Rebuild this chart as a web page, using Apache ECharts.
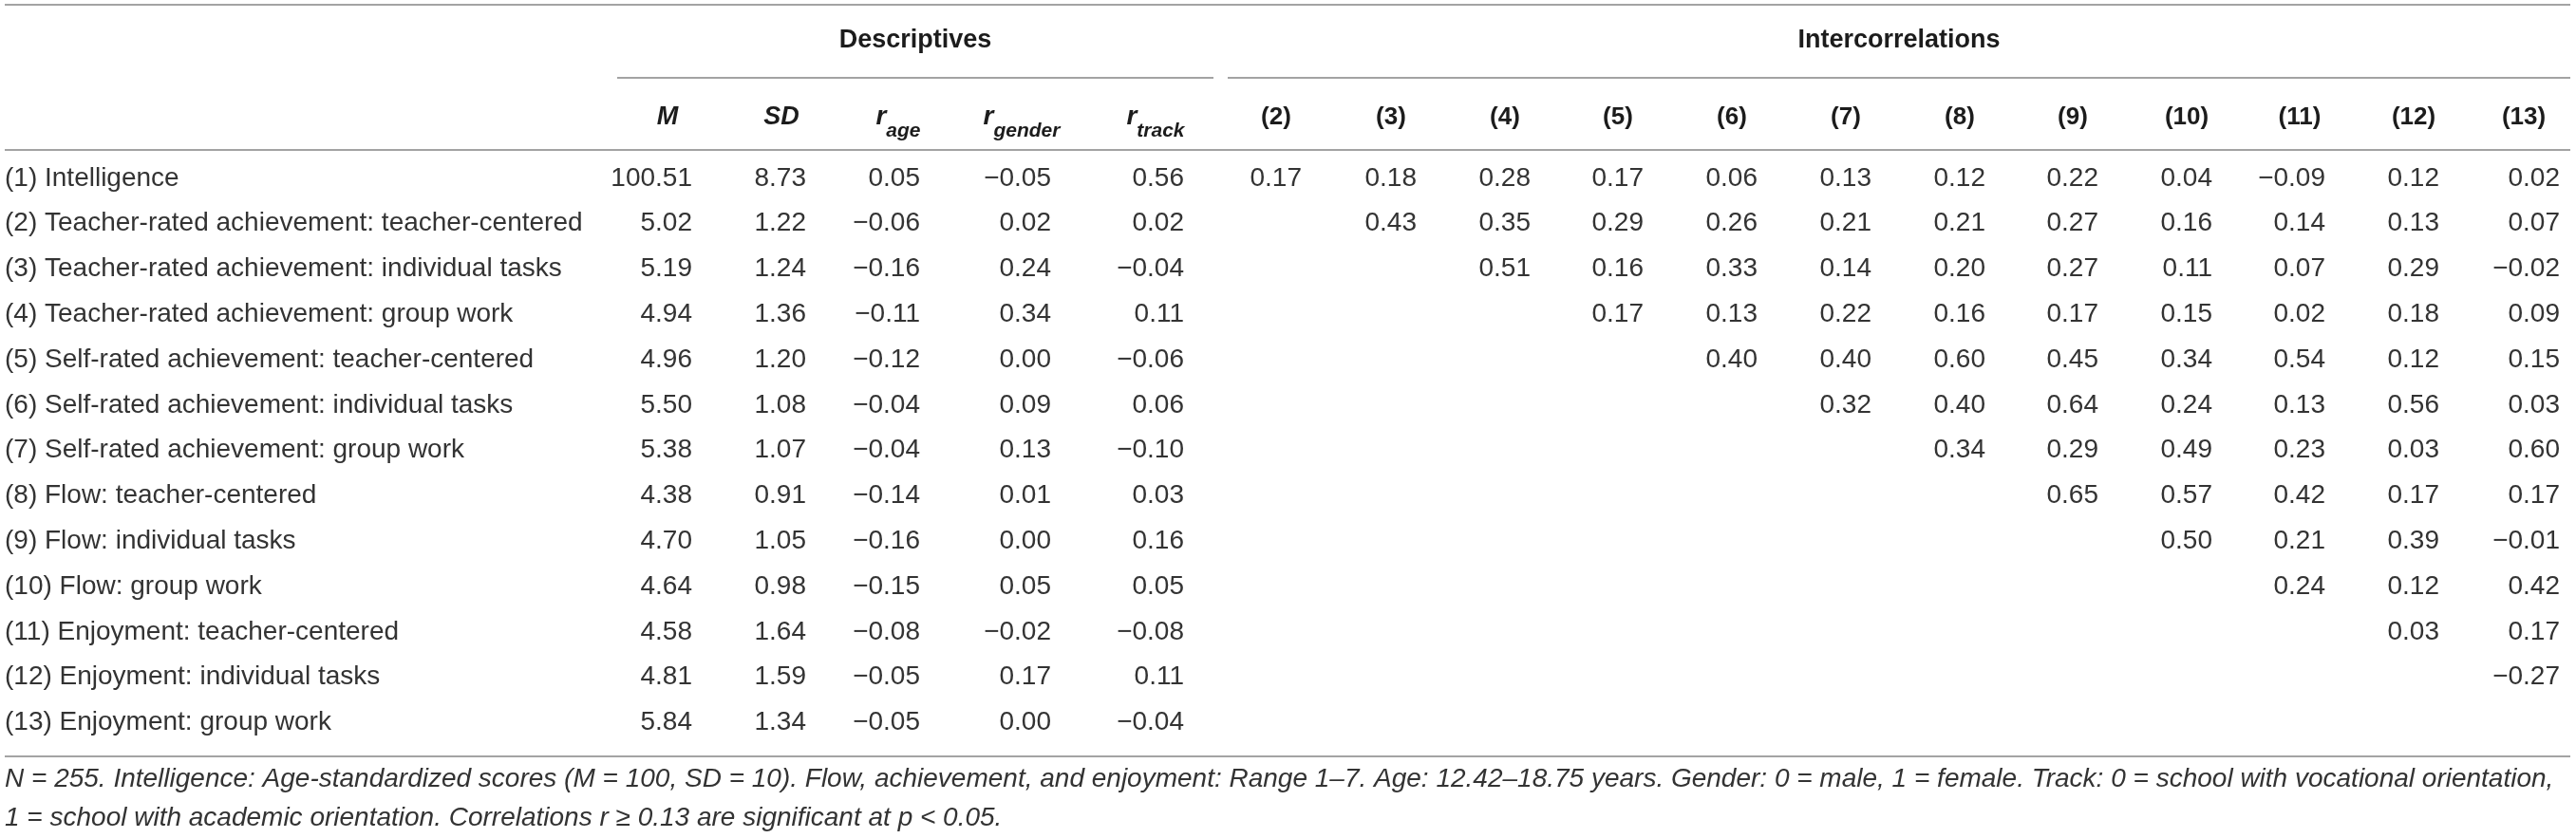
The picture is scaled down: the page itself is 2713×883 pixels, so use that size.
<!DOCTYPE html>
<html>
<head>
<meta charset="utf-8">
<script src="https://cdn.jsdelivr.net/npm/echarts@6/dist/echarts.min.js"></script>
<style>
  html, body { margin: 0; padding: 0; background: #fff; }
  #main { width: 2713px; height: 883px; }
</style>
</head>
<body>
<div id="main"></div>
<script>
// table content
var rowLabels = [
  '(1) Intelligence',
  '(2) Teacher-rated achievement: teacher-centered',
  '(3) Teacher-rated achievement: individual tasks',
  '(4) Teacher-rated achievement: group work',
  '(5) Self-rated achievement: teacher-centered',
  '(6) Self-rated achievement: individual tasks',
  '(7) Self-rated achievement: group work',
  '(8) Flow: teacher-centered',
  '(9) Flow: individual tasks',
  '(10) Flow: group work',
  '(11) Enjoyment: teacher-centered',
  '(12) Enjoyment: individual tasks',
  '(13) Enjoyment: group work'
];
var means   = [100.51, 5.02, 5.19, 4.94, 4.96, 5.50, 5.38, 4.38, 4.70, 4.64, 4.58, 4.81, 5.84];
var sds     = [8.73, 1.22, 1.24, 1.36, 1.20, 1.08, 1.07, 0.91, 1.05, 0.98, 1.64, 1.59, 1.34];
var rAge    = [0.05, -0.06, -0.16, -0.11, -0.12, -0.04, -0.04, -0.14, -0.16, -0.15, -0.08, -0.05, -0.05];
var rGender = [-0.05, 0.02, 0.24, 0.34, 0.00, 0.09, 0.13, 0.01, 0.00, 0.05, -0.02, 0.17, 0.00];
var rTrack  = [0.56, 0.02, -0.04, 0.11, -0.06, 0.06, -0.10, 0.03, 0.16, 0.05, -0.08, 0.11, -0.04];

// upper triangle, row (i) holds columns (i+1) .. (13)
var corr = [
  [0.17, 0.18, 0.28, 0.17, 0.06, 0.13, 0.12, 0.22, 0.04, -0.09, 0.12, 0.02],
  [0.43, 0.35, 0.29, 0.26, 0.21, 0.21, 0.27, 0.16, 0.14, 0.13, 0.07],
  [0.51, 0.16, 0.33, 0.14, 0.20, 0.27, 0.11, 0.07, 0.29, -0.02],
  [0.17, 0.13, 0.22, 0.16, 0.17, 0.15, 0.02, 0.18, 0.09],
  [0.40, 0.40, 0.60, 0.45, 0.34, 0.54, 0.12, 0.15],
  [0.32, 0.40, 0.64, 0.24, 0.13, 0.56, 0.03],
  [0.34, 0.29, 0.49, 0.23, 0.03, 0.60],
  [0.65, 0.57, 0.42, 0.17, 0.17],
  [0.50, 0.21, 0.39, -0.01],
  [0.24, 0.12, 0.42],
  [0.03, 0.17],
  [-0.27],
  []
];

var descHeads = ['M', 'SD', 'age', 'gender', 'track'];
var corrHeads = ['(2)', '(3)', '(4)', '(5)', '(6)', '(7)', '(8)', '(9)', '(10)', '(11)', '(12)', '(13)'];
var groupTitles = ['Descriptives', 'Intercorrelations'];
var footnote = [
  'N = 255. Intelligence: Age-standardized scores (M = 100, SD = 10). Flow, achievement, and enjoyment: Range 1\u20137. Age: 12.42\u201318.75 years. Gender: 0 = male, 1 = female. Track: 0 = school with vocational orientation,',
  '1 = school with academic orientation. Correlations r \u2265 0.13 are significant at p < 0.05.'
];

// layout (pixels)
var W = 2713, H = 883;
var FONT = '"Liberation Sans", Arial, Helvetica, sans-serif';
var descCenter = [703, 823, 946, 1076, 1217];
var descRight = [729, 849, 969, 1107, 1247];
var corrCenter = [1344, 1465, 1585, 1704, 1824, 1944, 2064, 2183, 2303, 2422, 2542, 2658];
var corrRight = corrCenter.map(function (c) { return c + 27; });
corrRight[11] = 2696;
var rowTop = 164, rowH = 47.8;
var ruleColor = '#a3a3a3';

function fmt(v) {
  return (v < 0 ? '\u2212' : '') + Math.abs(v).toFixed(2);
}

// cells: [x right edge, row index, text]
var cells = [];
var descCols = [means, sds, rAge, rGender, rTrack];
rowLabels.forEach(function (lab, i) {
  descCols.forEach(function (col, j) {
    cells.push([descRight[j], i, fmt(col[i])]);
  });
  corr[i].forEach(function (v, m) {
    cells.push([corrRight[i + m], i, fmt(v)]);
  });
});

var chart = echarts.init(document.getElementById('main'));

var graphics = [];
function rule(x1, x2, y) {
  graphics.push({
    type: 'line', silent: true,
    shape: { x1: x1, y1: y, x2: x2, y2: y },
    style: { stroke: ruleColor, lineWidth: 2 }
  });
}
rule(5, 2707, 5);
rule(650, 1278, 82);
rule(1293, 2707, 82);
rule(5, 2707, 158);
rule(5, 2707, 797);

graphics.push({
  type: 'text', x: 964, y: 43,
  style: { text: groupTitles[0], font: 'bold 27px ' + FONT, fill: '#1c1c1c', align: 'center', verticalAlign: 'middle' }
});
graphics.push({
  type: 'text', x: 2000, y: 43,
  style: { text: groupTitles[1], font: 'bold 27px ' + FONT, fill: '#1c1c1c', align: 'center', verticalAlign: 'middle' }
});

var headY = 124;
descHeads.forEach(function (h, j) {
  if (j < 2) {
    graphics.push({
      type: 'text', x: descCenter[j], y: headY,
      style: { text: h, font: 'italic bold 27px ' + FONT, fill: '#1c1c1c', align: 'center', verticalAlign: 'middle' }
    });
  } else {
    graphics.push({
      type: 'text', x: descCenter[j], y: headY + 5,
      style: {
        text: '{r|r}{s|' + h + '}',
        align: 'center', verticalAlign: 'middle',
        rich: {
          r: { fontFamily: FONT, fontSize: 28, fontWeight: 'bold', fontStyle: 'italic', fill: '#1c1c1c', lineHeight: 40, verticalAlign: 'top' },
          s: { fontFamily: FONT, fontSize: 21, fontWeight: 'bold', fontStyle: 'italic', fill: '#1c1c1c', lineHeight: 20, verticalAlign: 'bottom' }
        }
      }
    });
  }
});
corrHeads.forEach(function (h, j) {
  graphics.push({
    type: 'text', x: corrCenter[j], y: headY,
    style: { text: h, font: 'bold 26px ' + FONT, fill: '#1c1c1c', align: 'center', verticalAlign: 'middle' }
  });
});

graphics.push({
  type: 'text', x: 5, y: 821,
  style: { text: footnote[0], font: 'italic 28px ' + FONT, fill: '#333', align: 'left', verticalAlign: 'middle' }
});
graphics.push({
  type: 'text', x: 5, y: 862,
  style: { text: footnote[1], font: 'italic 28px ' + FONT, fill: '#333', align: 'left', verticalAlign: 'middle' }
});

var option = {
  animation: false,
  backgroundColor: '#fff',
  grid: { left: 0, right: 0, top: rowTop, height: rowH * rowLabels.length },
  xAxis: {
    type: 'value', min: 0, max: W, show: false
  },
  yAxis: {
    type: 'category',
    data: rowLabels,
    inverse: true,
    axisLine: { show: false },
    axisTick: { show: false },
    splitLine: { show: false },
    axisLabel: {
      inside: true, align: 'left', margin: 5,
      fontFamily: FONT, fontSize: 28, color: '#333'
    }
  },
  series: [{
    type: 'custom',
    data: cells.map(function (c) { return [c[0], c[1]]; }),
    encode: { x: 0, y: 1 },
    clip: false,
    silent: true,
    renderItem: function (params, api) {
      var p = api.coord([api.value(0), api.value(1)]);
      return {
        type: 'text', x: p[0], y: p[1],
        style: {
          text: cells[params.dataIndex][2],
          font: '28px ' + FONT, fill: '#333',
          align: 'right', verticalAlign: 'middle'
        }
      };
    }
  }],
  graphic: graphics
};
chart.setOption(option);
</script>
</body>
</html>
